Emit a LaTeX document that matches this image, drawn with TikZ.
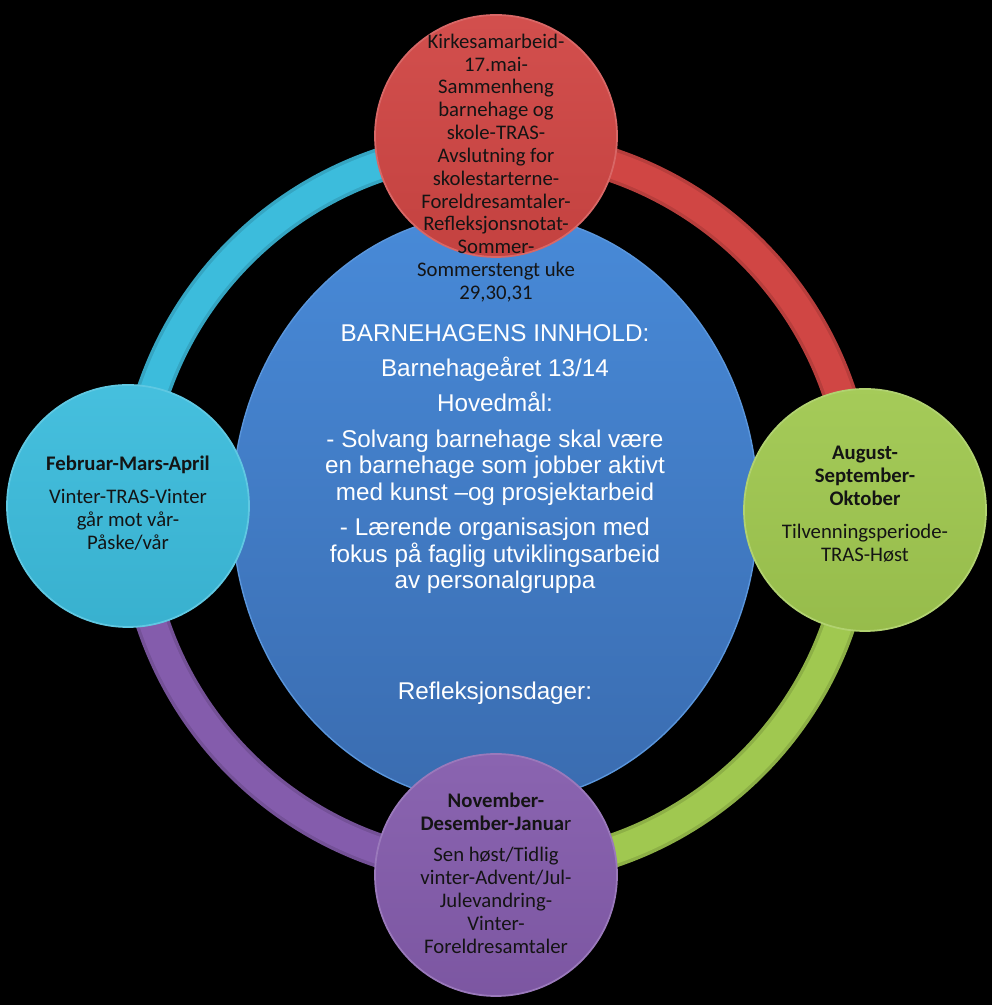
\documentclass[tikz,border=0pt]{standalone}
\usepackage{fontspec}
\setmainfont{Carlito}
\newfontfamily\arialfont{Liberation Sans}
\usetikzlibrary{positioning,calc,shapes.geometric}
\definecolor{redc}{RGB}{208,70,68}
\definecolor{cyanc}{RGB}{60,188,220}
\definecolor{greenc}{RGB}{160,200,80}
\definecolor{purplec}{RGB}{132,92,172}
\definecolor{coretop}{RGB}{72,138,216}
\definecolor{corebot}{RGB}{58,108,176}
\tikzset{
  ringseg/.style={line width=0.68cm, draw=#1!88!black},
  ringtop/.style={line width=0.54cm, draw=#1},
  season/.style={circle, minimum size=4.84cm, inner sep=0pt, draw=#1!82!white,
    line width=1pt, top color=#1!95!white, bottom color=#1!94!black},
  seasontext/.style={align=center, inner sep=0pt, text=black!92,
    font=\fontsize{11.8pt}{13pt}\selectfont},
  coretext/.style={align=center, inner sep=0pt, text=white,
    font=\arialfont\fontsize{13.8pt}{15.1pt}\selectfont},
}
\begin{document}
\begin{tikzpicture}
  \useasboundingbox[fill=black] (0,0) rectangle (19.84,20.10);
  \coordinate (hub) at (9.92,9.94);
  % ring round the year
  \foreach \col/\a in {redc/0, cyanc/90, purplec/180, greenc/270} {
    \draw[ringseg=\col] (hub) ++(\a:7.24) arc[start angle=\a, end angle=\a+90, radius=7.24];
    \draw[ringtop=\col] (hub) ++(\a:7.24) arc[start angle=\a, end angle=\a+90, radius=7.24];
  }
  % centre disk
  \node[ellipse, minimum width=10.52cm, minimum height=11.8cm, inner sep=0pt,
    top color=coretop, bottom color=corebot, draw=coretop!90!white, line width=0.8pt]
    (core) at (9.90,9.94) {};
  % seasons
  \node[season=redc] (summer) at (9.92,17.38) {};
  \node[season=cyanc] (spring) at (2.56,9.98) {};
  \node[season=greenc] (autumn) at (17.30,9.90) {};
  \node[season=purplec] (winter) at (9.92,2.60) {};
  % texts
  \node[seasontext] (summertxt) at ([yshift=-0.64cm]summer.center)
    {Kirkesamarbeid-\\17.mai-\\Sammenheng\\barnehage og\\skole-TRAS-\\Avslutning for\\skolestarterne-\\Foreldresamtaler-\\Refleksjonsnotat-\\Sommer-\\Sommerstengt uke\\29,30,31};
  \node[seasontext] (springtxt) at ([yshift=0.06cm]spring.center)
    {\textbf{Februar-Mars-April}\\[6pt]Vinter-TRAS-Vinter\\går mot vår-\\Påske/vår};
  \node[seasontext] (autumntxt) at ([yshift=0.12cm]autumn.center)
    {\textbf{August-}\\\textbf{September-}\\\textbf{Oktober}\\[6pt]Tilvenningsperiode-\\TRAS-Høst};
  \node[seasontext] (wintertxt) at ([yshift=0.04cm]winter.center)
    {\textbf{November-}\\\textbf{Desember-Janua}r\\[5pt]Sen høst/Tidlig\\vinter-Advent/Jul-\\Julevandring-\\Vinter-\\Foreldresamtaler};
  \node[coretext, anchor=north] (goals) at (9.90,13.62)
    {BARNEHAGENS INNHOLD:\\[5pt]Barnehageåret 13/14\\[5pt]Hovedmål:\\[5pt]- Solvang barnehage skal være\\en barnehage som jobber aktivt\\med kunst –og prosjektarbeid\\[5pt]- Lærende organisasjon med\\fokus på faglig utviklingsarbeid\\av personalgruppa};
  \node[coretext, below=1.75cm of goals] (refl) {Refleksjonsdager:};
\end{tikzpicture}
\end{document}
